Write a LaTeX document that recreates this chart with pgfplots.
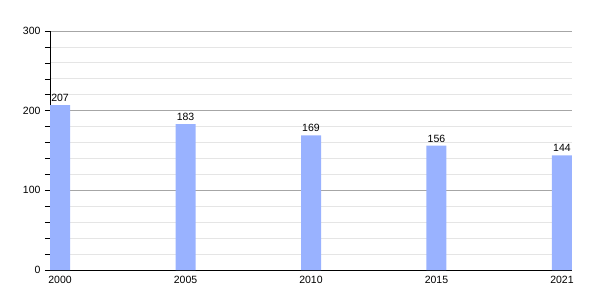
\documentclass[border=0pt]{standalone}
\usepackage{pgfplots}
\pgfplotsset{compat=1.18}
\usepackage{fontspec}
\setmainfont{Liberation Sans}
\definecolor{barblue}{RGB}{153,178,255}
\begin{document}
\begin{tikzpicture}
\useasboundingbox (-50pt,-30pt) rectangle (550pt,270pt);
\begin{axis}[
  at={(0pt,0pt)}, anchor=south west,
  scale only axis,
  width=522pt, height=239pt,
  xmin=-0.08, xmax=4.08,
  ymin=0, ymax=300,
  axis x line*=bottom, axis y line*=left,
  axis line style={black, line width=0.8pt},
  xtick=data,
  xticklabels={2000,2005,2010,2015,2021},
  x tick style={draw=none},
  major x tick style={draw=none},
  ytick={0,100,200,300},
  minor y tick num=4,
  tick align=outside,
  major tick length=5pt,
  minor tick length=5pt,
  y tick style={black, line width=0.6pt},
  ymajorgrids, yminorgrids,
  major grid style={color=black!35, line width=0.8pt},
  minor grid style={color=black!10, line width=0.8pt},
  tick label style={font=\fontsize{10.5}{12}\selectfont},
  /pgf/number format/assume math mode=true,
  yticklabel style={xshift=-1pt},
  xticklabel style={yshift=2pt},
  ybar, bar width=20pt, bar shift=0pt,
  nodes near coords,
  every node near coord/.append style={font=\fontsize{10.5}{12}\selectfont, black, yshift=0pt},
  clip=false,
]
\addplot[fill=barblue, draw=none] coordinates {(0,207) (1,183) (2,169) (3,156) (4,144)};
\end{axis}
\end{tikzpicture}
\end{document}
